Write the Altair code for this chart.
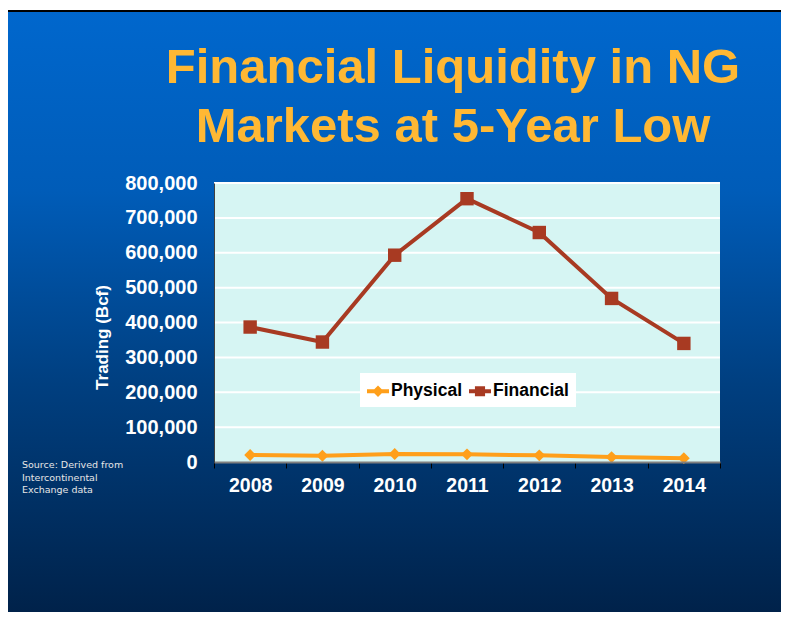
import altair as alt
import pandas as pd

# ---------------- data ----------------
YEARS = ["2008", "2009", "2010", "2011", "2012", "2013", "2014"]
PHYSICAL = [20000, 18000, 23000, 22000, 19000, 14000, 11000]
FINANCIAL = [387000, 344000, 593000, 755000, 658000, 469000, 340000]
SERIES = ["Physical", "Financial"]
Y_TICKS = [0, 100000, 200000, 300000, 400000, 500000, 600000, 700000, 800000]
TITLE_LINES = ["Financial Liquidity in NG", "Markets at 5-Year Low"]
SOURCE_LINES = ["Source: Derived from", "Intercontinental", "Exchange data"]
Y_TITLE = "Trading (Bcf)"

# ---------------- layout / style ----------------
W, H = 506, 279
PAD = {"left": 206, "top": 175, "right": 61, "bottom": 150}
COLORS = ["#FF9F1A", "#A83A22"]
SHAPES = ["diamond", "square"]
SIZES = [140, 180]
PHYS_PATH = "M-1,-0.18H1V0.18H-1Z M0,-0.52L0.52,0L0,0.52L-0.52,0Z"
FIN_PATH = "M-1,-0.18H1V0.18H-1Z M-0.46,-0.46H0.46V0.46H-0.46Z"
FONT = "Liberation Sans"

rows = []
for y, p, f in zip(YEARS, PHYSICAL, FINANCIAL):
    rows.append({"year": y, "series": "Physical", "value": p})
    rows.append({"year": y, "series": "Financial", "value": f})
df = pd.DataFrame(rows)
grid_df = pd.DataFrame({"year": YEARS[0], "value": Y_TICKS[1:]})
one = alt.Data(values=[{}])

xscale = alt.Scale(type="band", domain=YEARS, paddingInner=0, paddingOuter=0)
yscale = alt.Scale(domain=[0, 800000], nice=False, zero=True)
cscale = alt.Scale(domain=SERIES, range=COLORS)

xaxis = alt.Axis(
    title=None, labelAngle=0, labelFont=FONT, labelFontSize=19.5, labelFontWeight="bold",
    labelColor="white", tickBand="extent", tickSize=6, tickColor="black", tickWidth=1,
    domainColor="#7F7F7F", domainWidth=2, labelPadding=8, zindex=1, grid=False,
)
yaxis = alt.Axis(
    values=Y_TICKS, format=",d", title=Y_TITLE, titleColor="white", titleFont=FONT,
    titleFontSize=17, titleFontWeight="bold", titleX=-112, titleY=154, titleAngle=270,
    titleAlign="center", titleBaseline="middle",
    ticks=False, labelPadding=17, domainColor="#404040", domainWidth=1, grid=False,
    zindex=1, labelFont=FONT, labelFontSize=20, labelFontWeight="bold", labelColor="white",
)

gradient = alt.LinearGradient(
    gradient="linear",
    stops=[
        alt.GradientStop(color="#0067CD", offset=0),
        alt.GradientStop(color="#005CB8", offset=0.3),
        alt.GradientStop(color="#003F80", offset=0.62),
        alt.GradientStop(color="#00224A", offset=1),
    ],
    x1=0, x2=0, y1=0, y2=1,
)

frame_top = alt.Chart(one).mark_rect(fill="black").encode(
    x=alt.value(-PAD["left"]), x2=alt.value(W + PAD["right"]),
    y=alt.value(-PAD["top"] + 2), y2=alt.value(-PAD["top"] + 4),
)
bg = alt.Chart(one).mark_rect(fill=gradient).encode(
    x=alt.value(-PAD["left"]), x2=alt.value(W + PAD["right"]),
    y=alt.value(-PAD["top"] + 4), y2=alt.value(H + PAD["bottom"]),
)
plot_bg = alt.Chart(one).mark_rect(fill="#D6F5F3").encode(
    x=alt.value(0), x2=alt.value(W), y=alt.value(0), y2=alt.value(H),
)

X = alt.X("year:N", scale=xscale, axis=xaxis, bandPosition=0.5)
Y = alt.Y("value:Q", scale=yscale, axis=yaxis)

grid = alt.Chart(grid_df).mark_rule(color="white", strokeWidth=2).encode(
    y=Y, x=alt.value(0), x2=alt.value(W),
)

base = alt.Chart(df)
series_layers = []
for name, col in zip(SERIES, COLORS):
    sub = base.transform_filter(alt.datum.series == name)
    series_layers.append(sub.mark_line(strokeWidth=4, color=col).encode(x=X, y=Y))
for name, col, shp, sz in zip(SERIES, COLORS, SHAPES, SIZES):
    sub = base.transform_filter(alt.datum.series == name)
    series_layers.append(
        sub.mark_point(shape=shp, filled=True, size=sz, opacity=1, color=col).encode(x=X, y=Y)
    )

leg = alt.Legend(
    orient="none", legendX=146, legendY=190, direction="horizontal", title=None,
    fillColor="white", padding=7, symbolSize=484, symbolStrokeWidth=0,
    labelFont=FONT, labelFontSize=17.5, labelFontWeight="bold", labelColor="black",
    labelOffset=2, columnPadding=6,
)
legend_layer = base.transform_filter("false").mark_point(filled=True, opacity=1).encode(
    x=X, y=Y,
    color=alt.Color("series:N", scale=cscale, legend=leg),
    shape=alt.Shape("series:N", scale=alt.Scale(domain=SERIES, range=[PHYS_PATH, FIN_PATH]), legend=leg),
)

title = alt.Chart(one).mark_text(
    font=FONT, fontSize=49, fontWeight="bold", color="#FFB834",
    align="center", baseline="alphabetic", lineHeight=59,
).encode(x=alt.value(239), y=alt.value(-100), text=alt.value(TITLE_LINES))

source = alt.Chart(one).mark_text(
    font="DejaVu Sans", fontSize=9.5, color="#E6E6E6", align="left", baseline="top",
    lineHeight=12.5,
).encode(x=alt.value(-192), y=alt.value(277), text=alt.value(SOURCE_LINES))

chart = alt.layer(
    frame_top, bg, plot_bg, grid, *series_layers, legend_layer, title, source
).properties(
    width=W, height=H, padding=PAD, autosize=alt.AutoSizeParams(type="none"),
    background="white",
).configure_view(stroke=None)

chart.save("out.html", embed_options={"renderer": "svg", "actions": False})
